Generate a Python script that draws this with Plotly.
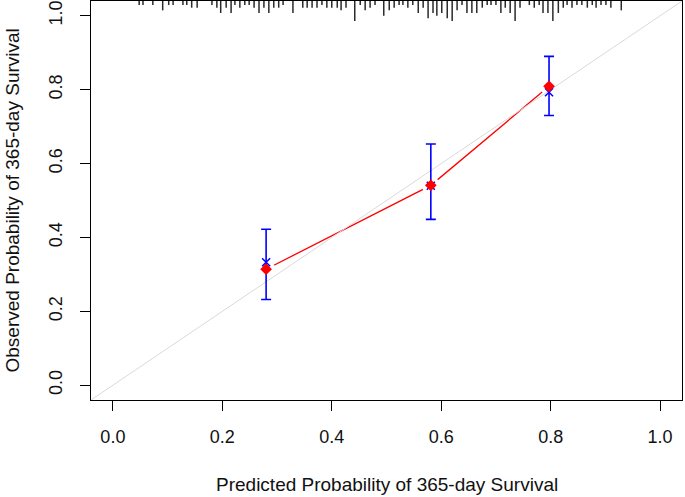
import plotly.graph_objects as go

# ---- data ----
pred_group = [0.280, 0.581, 0.797]          # mean predicted probability per group
obs_km = [0.333, 0.540, 0.793]              # observed (KM) - blue x
obs_corrected = [0.314, 0.541, 0.809]       # bias-corrected - red diamonds
ci_low = [0.232, 0.449, 0.730]
ci_high = [0.422, 0.653, 0.890]

rug_x = [0.048, 0.055, 0.073, 0.091, 0.102, 0.110, 0.128, 0.135, 0.144, 0.154,
         0.181, 0.190, 0.197, 0.207, 0.216, 0.223, 0.232, 0.241, 0.249, 0.258,
         0.267, 0.276, 0.285, 0.294, 0.303, 0.311, 0.329, 0.347, 0.355, 0.364,
         0.373, 0.382, 0.391, 0.400, 0.410, 0.417, 0.426, 0.442, 0.452, 0.461,
         0.470, 0.479, 0.495, 0.505, 0.514, 0.523, 0.530, 0.539, 0.548, 0.558,
         0.567, 0.576, 0.585, 0.592, 0.601, 0.611, 0.620, 0.629, 0.638, 0.647,
         0.656, 0.665, 0.675, 0.684, 0.691, 0.700, 0.709, 0.717, 0.726, 0.735,
         0.744, 0.761, 0.770, 0.779, 0.786, 0.795, 0.804, 0.814, 0.823, 0.830,
         0.839, 0.848, 0.857, 0.867, 0.876, 0.883, 0.892, 0.901, 0.910, 0.929]
rug_count = [1, 1, 1, 3, 1, 1, 1, 1, 2, 2,
             1, 2, 4, 2, 4, 1, 2, 1, 1, 2,
             4, 2, 4, 2, 2, 1, 4, 2, 2, 2,
             2, 1, 2, 2, 2, 3, 2, 7, 1, 3,
             2, 1, 5, 3, 2, 1, 1, 2, 1, 4,
             2, 6, 4, 5, 4, 6, 7, 3, 1, 4,
             4, 4, 2, 1, 1, 1, 4, 2, 4, 7,
             2, 1, 2, 1, 4, 4, 7, 4, 2, 1,
             2, 1, 1, 2, 1, 2, 1, 1, 2, 3]

tick_vals = [0.0, 0.2, 0.4, 0.6, 0.8, 1.0]
tick_text = ["0.0", "0.2", "0.4", "0.6", "0.8", "1.0"]
axis_range = [-0.04, 1.04]

x_title = "Predicted Probability of 365-day Survival"
y_title = "Observed Probability of 365-day Survival"

# ---- figure ----
W, H = 685, 497
ml, mr, mt, mb = 91, 3, 1, 97
plot_h = H - mt - mb
data_per_px = (axis_range[1] - axis_range[0]) / plot_h

fig = go.Figure()

# rug spikes at top
sx, sy = [], []
top = axis_range[1]
for xv, c in zip(rug_x, rug_count):
    L = (1.4 + 2.65 * c) * data_per_px
    sx += [xv, xv, None]
    sy += [top, top - L, None]
fig.add_trace(go.Scatter(x=sx, y=sy, mode="lines",
                         line=dict(color="#2a2a2a", width=1.5), hoverinfo="skip"))

# red line (type "b" style: gaps around points)
fig.add_trace(go.Scatter(x=pred_group, y=obs_corrected, mode="lines",
                         line=dict(color="#ff0000", width=1.3), hoverinfo="skip"))
fig.add_trace(go.Scatter(x=pred_group, y=obs_corrected, mode="markers",
                         marker=dict(symbol="circle", size=18, color="white",
                                     line=dict(width=0)), hoverinfo="skip"))

# identity line
fig.add_trace(go.Scatter(x=axis_range, y=axis_range, mode="lines",
                         line=dict(color="#d9d9d9", width=1), hoverinfo="skip"))

# blue error bars + x
fig.add_trace(go.Scatter(
    x=pred_group, y=obs_km, mode="markers",
    marker=dict(symbol="x-thin", size=8, line=dict(color="#0000ff", width=1.5), color="#0000ff"),
    error_y=dict(type="data", symmetric=False,
                 array=[h - o for h, o in zip(ci_high, obs_km)],
                 arrayminus=[o - l for o, l in zip(obs_km, ci_low)],
                 color="#0000ff", thickness=1.6, width=5)))

# red diamonds
fig.add_trace(go.Scatter(x=pred_group, y=obs_corrected, mode="markers",
                         marker=dict(symbol="diamond", size=9, color="#ff0000",
                                     line=dict(width=0))))

axis_common = dict(range=axis_range, tickvals=tick_vals, ticktext=tick_text,
                   showgrid=False, zeroline=False, showline=True, mirror=True,
                   linecolor="black", linewidth=1, ticks="outside", ticklen=10,
                   tickwidth=1, tickcolor="black", automargin=False,
                   tickfont=dict(family="Liberation Sans, Arial", size=18, color="#111"))

fig.update_xaxes(**axis_common, ticklabelstandoff=10)
fig.update_yaxes(**axis_common, tickangle=-90, ticklabelstandoff=11)

fig.add_annotation(text=x_title, xref="paper", yref="paper", x=0.5,
                   y=(-(484 - (H - mb)) / plot_h), xanchor="center", yanchor="middle",
                   showarrow=False,
                   font=dict(family="Liberation Sans, Arial", size=19, color="#111"))
fig.add_annotation(text=y_title, xref="paper", yref="paper",
                   x=(12 - ml) / (W - ml - mr), y=0.5, xanchor="center", yanchor="middle",
                   textangle=-90, showarrow=False,
                   font=dict(family="Liberation Sans, Arial", size=19, color="#111"))

fig.update_layout(width=W, height=H, margin=dict(l=ml, r=mr, t=mt, b=mb),
                  plot_bgcolor="white", paper_bgcolor="white", showlegend=False)

fig.write_html("out.html", config={"displayModeBar": False},
               post_script="document.body.style.margin='0px';document.body.style.padding='0px';")
